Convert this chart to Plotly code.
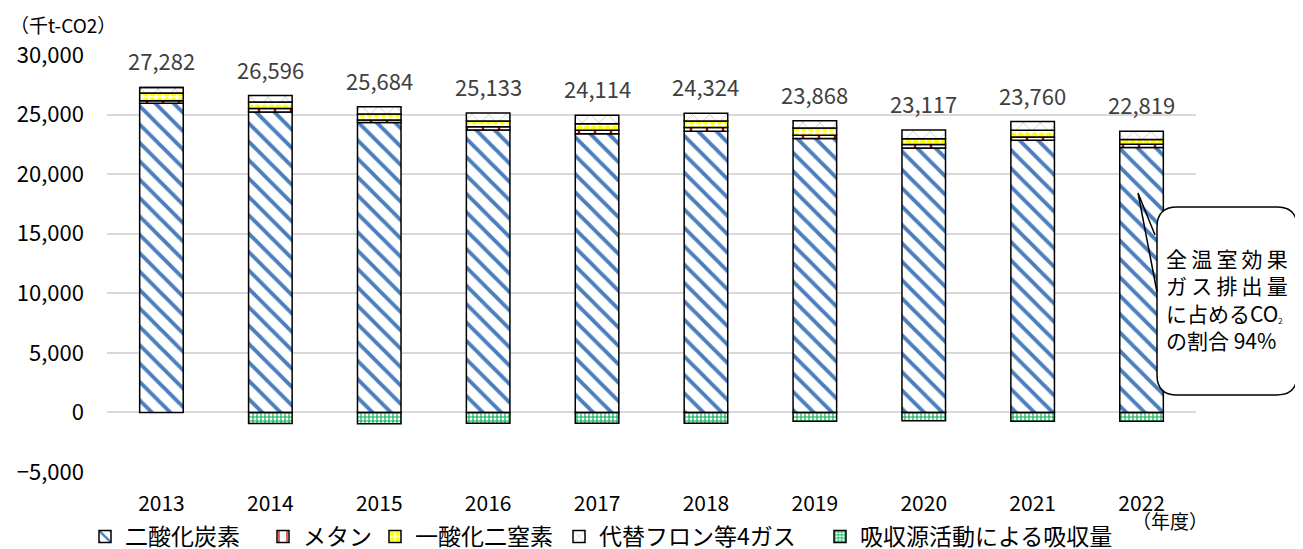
import plotly.graph_objects as go

# 年度
years = ["2013", "2014", "2015", "2016", "2017", "2018", "2019", "2020", "2021", "2022"]

# 千t-CO2
co2 = [25950, 25220, 24330, 23700, 23400, 23600, 22990, 22200, 22840, 22230]
methane = [220, 280, 220, 280, 280, 310, 280, 280, 280, 280]
n2o = [640, 560, 500, 480, 560, 560, 610, 500, 560, 400]
fluoro = [470, 540, 610, 670, 700, 640, 610, 730, 730, 700]
absorption = [0, -920, -950, -900, -900, -900, -730, -700, -730, -730]

# 表示ラベル
total_labels = ["27,282", "26,596", "25,684", "25,133", "24,114",
                "24,324", "23,868", "23,117", "23,760", "22,819"]

FONT = "Noto Sans CJK JP"

# the page body has an 8px margin, so the figure is drawn at (8, 8)
OFF = 8
W, H = 1303 - OFF, 549 - OFF
L, T = 107 - OFF, 55 - OFF
R = W - (1196 - OFF)
B = H - (472 - OFF)


def px_x(x):
    # screen pixel -> paper fraction
    return (x - OFF - L) / (W - L - R)


def px_y(y):
    return (H - B - (y - OFF)) / (H - T - B)


def bar(name, vals, fg, shape, size, solidity, legend):
    return go.Bar(
        x=years, y=vals, name=name, legend=legend, showlegend=True,
        marker=dict(
            color="white",
            line=dict(color="black", width=1.5),
            pattern=dict(shape=shape, fgcolor=fg, bgcolor="white",
                         size=size, solidity=solidity, fillmode="replace"),
        ),
    )


fig = go.Figure()
fig.add_trace(bar("二酸化炭素", co2, "#4A7EBF", "\\", 13, 0.3, "legend"))
fig.add_trace(bar("メタン", methane, "#C00000", "|", 16, 0.15, "legend2"))
fig.add_trace(bar("一酸化二窒素", n2o, "#FFFF00", ".", 7, 0.6, "legend3"))
fig.add_trace(bar("代替フロン等4ガス", fluoro, "#BFBFBF", "x", 12, 0.12, "legend4"))
fig.add_trace(bar("吸収源活動による吸収量", absorption, "#00B050", "+", 4, 0.5, "legend5"))

# 棒の上の合計ラベル (category index)
gross = [c + m + n + f for c, m, n, f in zip(co2, methane, n2o, fluoro)]
for i, (g, lab) in enumerate(zip(gross, total_labels)):
    fig.add_annotation(x=i, y=g, text=lab, showarrow=False, yshift=27,
                       font=dict(family=FONT, size=22, color="#404040"))

# 単位
fig.add_annotation(xref="paper", yref="paper", x=px_x(8), y=px_y(24),
                   xanchor="left", yanchor="middle", showarrow=False,
                   text="（千t-CO2）", font=dict(family=FONT, size=19, color="black"))
fig.add_annotation(xref="paper", yref="paper", x=px_x(1130), y=px_y(520),
                   xanchor="left", yanchor="middle", showarrow=False,
                   text="（年度）", font=dict(family=FONT, size=19, color="black"))

# 吹き出し
x0, x1, y0, y1, r = 1157, 1297, 207, 395, 20
path = (f"M {px_x(x0 + r)},{px_y(y0)} L {px_x(x1 - r)},{px_y(y0)} "
        f"Q {px_x(x1)},{px_y(y0)} {px_x(x1)},{px_y(y0 + r)} "
        f"L {px_x(x1)},{px_y(y1 - r)} Q {px_x(x1)},{px_y(y1)} {px_x(x1 - r)},{px_y(y1)} "
        f"L {px_x(x0 + r)},{px_y(y1)} Q {px_x(x0)},{px_y(y1)} {px_x(x0)},{px_y(y1 - r)} "
        f"L {px_x(x0)},{px_y(y0 + r)} Q {px_x(x0)},{px_y(y0)} {px_x(x0 + r)},{px_y(y0)} Z")
fig.add_shape(type="path", xref="paper", yref="paper", path=path,
              fillcolor="white", line=dict(color="black", width=1.5))
wedge = (f"M {px_x(1155)},{px_y(235)} L {px_x(1138)},{px_y(193)} "
         f"L {px_x(1157)},{px_y(292)}")
fig.add_shape(type="path", xref="paper", yref="paper", path=wedge,
              line=dict(color="black", width=1.5))
sp = "\u2009"
callout = (sp.join("全温室効果") + "<br>" + sp.join("ガス排出量") + "<br>"
           + "に占めるCO<span style='font-size:11px'><sub>2</sub></span><br>"
           + "の割合 94%")
fig.add_annotation(xref="paper", yref="paper", x=px_x(1164), y=px_y(299),
                   xanchor="left", yanchor="middle", align="left", showarrow=False,
                   text=callout, font=dict(family=FONT, size=21, color="black"))


def legend_at(text_left):
    return dict(orientation="h", xref="container", x=(text_left - 40 - OFF) / W,
                xanchor="left", yref="container", y=(H - (515 - OFF)) / H,
                yanchor="top", font=dict(family=FONT, size=23, color="black"),
                itemwidth=30, bgcolor="rgba(0,0,0,0)", visible=True)


fig.update_layout(
    width=W, height=H,
    margin=dict(l=L, r=R, t=T, b=B, autoexpand=False),
    barmode="relative",
    bargap=0.6,
    showlegend=True,
    plot_bgcolor="white",
    paper_bgcolor="white",
    font=dict(family=FONT, size=21, color="black"),
    legend=legend_at(125),
    legend2=legend_at(303),
    legend3=legend_at(415),
    legend4=legend_at(599),
    legend5=legend_at(860),
)
fig.update_xaxes(type="category", range=[-0.5, len(years) - 0.5],
                 showline=False, ticks="", ticklabelstandoff=17,
                 tickfont=dict(family=FONT, size=21, color="black"))
fig.update_yaxes(range=[-5000, 30000], dtick=5000, tickformat=",",
                 showgrid=True, gridcolor="#D9D9D9", gridwidth=2,
                 zeroline=True, zerolinecolor="#D9D9D9", zerolinewidth=2,
                 showline=False, ticks="", ticklabelstandoff=22,
                 tickfont=dict(family=FONT, size=22, color="black"))

fig.write_html("out.html")
